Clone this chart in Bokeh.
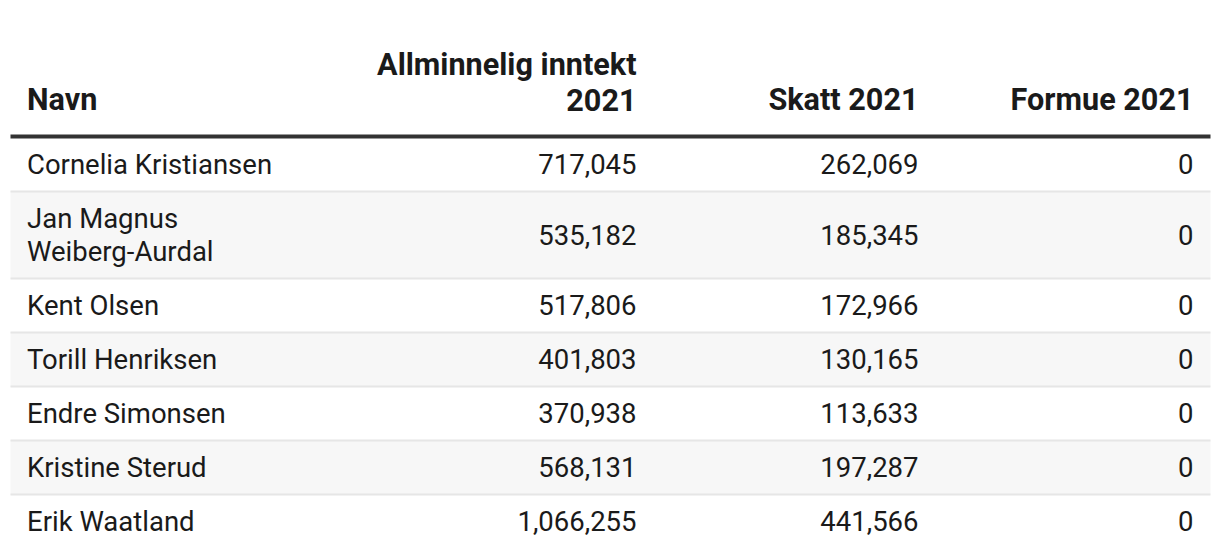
from bokeh.plotting import figure
from bokeh.models import Range1d
from bokeh.core.properties import value
from bokeh.embed import file_html
from bokeh.resources import INLINE

# ---- data ----
headers = ["Navn", "Allminnelig inntekt\n2021", "Skatt 2021", "Formue 2021"]
names = ["Cornelia Kristiansen", "Jan Magnus\nWeiberg-Aurdal", "Kent Olsen",
         "Torill Henriksen", "Endre Simonsen", "Kristine Sterud", "Erik Waatland"]
inntekt = [717045, 535182, 517806, 401803, 370938, 568131, 1066255]
skatt = [262069, 185345, 172966, 130165, 113633, 197287, 441566]
formue = [0, 0, 0, 0, 0, 0, 0]

W, H = 1220, 556
FONT = value("Roboto")
FS = "27.5px"
HFS = "30.6px"
TXT = "#1a1a1a"

p = figure(width=W, height=H, output_backend="svg", toolbar_location=None,
           x_range=Range1d(0, W), y_range=Range1d(H, 0), min_border=0)
p.axis.visible = False
p.grid.visible = False
p.outline_line_color = None
p.background_fill_color = "white"

left, right = 10, 1210
name_x = 26.5
col_right = [636, 918, 1193]
line_h = 33
base_h = 54

# header
hx, hy, ht, ha = [], [], [], []
for i, h in enumerate(headers):
    lines = h.split("\n")
    n = len(lines)
    for j, ln in enumerate(lines):
        y = 99 - (n - 1 - j) * 35
        hx.append(name_x if i == 0 else col_right[i - 1])
        hy.append(y)
        ht.append(ln)
        ha.append("left" if i == 0 else "right")
p.text(x=hx, y=hy, text=ht, text_align=ha, text_baseline="middle",
       text_font=FONT, text_font_size=HFS, text_font_style="bold", text_color=TXT)

# rows
top = 137
tx, ty, tt, ta = [], [], [], []
bx0, bx1, by0, by1 = [], [], [], []
sx0, sx1, sy = [], [], []
for r, nm in enumerate(names):
    lines = nm.split("\n")
    h = base_h + line_h * (len(lines) - 1)
    y0, y1 = top, top + h
    if r % 2 == 1:
        bx0.append(left); bx1.append(right); by0.append(y0); by1.append(y1)
    if r > 0:
        sx0.append(left); sx1.append(right); sy.append(y0)
    cy = (y0 + y1) / 2 - 0.5
    for j, ln in enumerate(lines):
        tx.append(name_x)
        ty.append(cy + (j - (len(lines) - 1) / 2) * line_h)
        tt.append(ln)
        ta.append("left")
    for c, v in enumerate([inntekt[r], skatt[r], formue[r]]):
        tx.append(col_right[c]); ty.append(cy); tt.append(f"{v:,}"); ta.append("right")
    top = y1

p.quad(left=bx0, right=bx1, top=by0, bottom=by1, fill_color="#f7f7f7", line_color=None)
p.segment(x0=sx0, x1=sx1, y0=sy, y1=sy, line_color="#e6e6e6", line_width=2)
p.segment(x0=[left], x1=[right], y0=[136], y1=[136], line_color="#333333", line_width=4)
p.text(x=tx, y=ty, text=tt, text_align=ta, text_baseline="middle",
       text_font=FONT, text_font_size=FS, text_color=TXT)

open("out.html", "w").write(file_html(p, INLINE))
